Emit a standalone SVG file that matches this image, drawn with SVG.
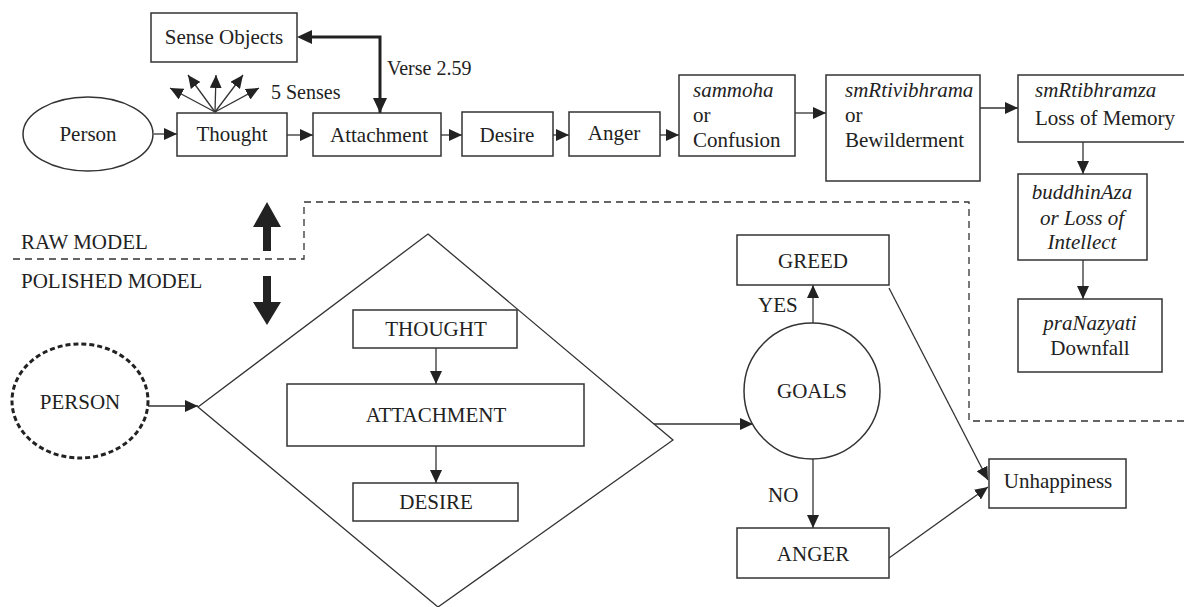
<svg xmlns="http://www.w3.org/2000/svg" width="1184" height="607" viewBox="0 0 1184 607">
<style>
.box{fill:#fff;stroke:#333;stroke-width:1.5}
.ln{fill:none;stroke:#333;stroke-width:1.3}
.dash{fill:none;stroke:#333;stroke-width:1.3;stroke-dasharray:7 5}
text{font-family:"Liberation Serif","Times New Roman",serif;font-size:21px;fill:#222}
.c{text-anchor:middle}
.i{font-style:italic}
</style>
<defs>
<marker id="ah" markerUnits="userSpaceOnUse" markerWidth="13" markerHeight="12" refX="13" refY="6" orient="auto">
<path d="M0,0 L13,6 L0,12 z" fill="#222"/>
</marker>
<marker id="ahb" markerUnits="userSpaceOnUse" markerWidth="15" markerHeight="14" refX="15" refY="7" orient="auto">
<path d="M0,0 L15,7 L0,14 z" fill="#222"/>
</marker>
</defs>

<!-- dashed separator -->
<path class="dash" d="M13,259 H304 V202 H969 V421 H1184"/>

<!-- raw/polished labels and big arrows -->
<text x="21" y="249">RAW MODEL</text>
<text x="21" y="288">POLISHED MODEL</text>
<polygon points="267,202 281,227 271,227 271,251 263,251 263,227 253,227" fill="#222"/>
<polygon points="267,325 281,302 271,302 271,276 263,276 263,302 253,302" fill="#222"/>

<g id="connectors">
<line class="ln" x1="154" y1="134" x2="177" y2="134" marker-end="url(#ah)"/>
<line class="ln" x1="287" y1="135" x2="313" y2="135" marker-end="url(#ah)"/>
<line class="ln" x1="441" y1="135" x2="462" y2="135" marker-end="url(#ah)"/>
<line class="ln" x1="553" y1="135" x2="569" y2="135" marker-end="url(#ah)"/>
<line class="ln" x1="660" y1="135" x2="679" y2="135" marker-end="url(#ah)"/>
<line class="ln" x1="795" y1="113" x2="826" y2="113" marker-end="url(#ah)"/>
<line class="ln" x1="980" y1="108" x2="1018" y2="108" marker-end="url(#ah)"/>
<line class="ln" x1="1083" y1="142" x2="1083" y2="174" marker-end="url(#ah)"/>
<line class="ln" x1="1083" y1="260" x2="1083" y2="299" marker-end="url(#ah)"/>
<!-- 5 senses -->
<line class="ln" x1="215" y1="112" x2="170" y2="88" marker-end="url(#ah)"/>
<line class="ln" x1="215" y1="112" x2="188" y2="75" marker-end="url(#ah)"/>
<line class="ln" x1="215" y1="112" x2="216" y2="75" marker-end="url(#ah)"/>
<line class="ln" x1="215" y1="112" x2="243" y2="75" marker-end="url(#ah)"/>
<line class="ln" x1="215" y1="112" x2="259" y2="88" marker-end="url(#ah)"/>
<!-- verse 2.59 thick double arrow -->
<path d="M310,37 H380 V113" fill="none" stroke="#222" stroke-width="3" marker-end="url(#ahb)"/>
<polygon points="297,37 312,30 312,44" fill="#222"/>
<!-- lower -->
<line class="ln" x1="148" y1="406" x2="198" y2="406" marker-end="url(#ah)"/>
<line class="ln" x1="436" y1="348" x2="436" y2="384" marker-end="url(#ah)"/>
<line class="ln" x1="436" y1="446" x2="436" y2="483" marker-end="url(#ah)"/>
<line class="ln" x1="654" y1="424" x2="753" y2="424" marker-end="url(#ah)"/>
<line class="ln" x1="813" y1="323" x2="813" y2="285" marker-end="url(#ah)"/>
<line class="ln" x1="813" y1="459" x2="813" y2="528" marker-end="url(#ah)"/>
<line class="ln" x1="889" y1="288" x2="988" y2="480" marker-end="url(#ah)"/>
<line class="ln" x1="889" y1="558" x2="988" y2="487" marker-end="url(#ah)"/>
</g>

<text x="387" y="75" style="font-size:20px">Verse 2.59</text>
<text x="271" y="99" style="font-size:20px">5 Senses</text>

<g id="sense-objects"><rect class="box" x="151" y="13" width="146" height="49"/><text class="c" x="224" y="44">Sense Objects</text></g>
<g id="person"><ellipse class="box" cx="88" cy="134" rx="65" ry="37"/><text class="c" x="88" y="141">Person</text></g>
<g id="thought"><rect class="box" x="177" y="113" width="110" height="43"/><text class="c" x="232" y="141">Thought</text></g>
<g id="attachment"><rect class="box" x="313" y="113" width="128" height="43"/><text class="c" x="379" y="142">Attachment</text></g>
<g id="desire"><rect class="box" x="462" y="112" width="91" height="44"/><text class="c" x="507" y="142">Desire</text></g>
<g id="anger"><rect class="box" x="569" y="112" width="91" height="44"/><text class="c" x="614" y="140">Anger</text></g>
<g id="sammoha"><rect class="box" x="679" y="75" width="116" height="81"/>
<text x="693" y="97" class="i">sammoha</text><text x="693" y="122">or</text><text x="693" y="147">Confusion</text></g>
<g id="smrtivibhrama"><rect class="box" x="826" y="75" width="154" height="106"/>
<text x="845" y="97" class="i">smRtivibhrama</text><text x="845" y="122">or</text><text x="845" y="147">Bewilderment</text></g>
<g id="smrtibhramza"><rect class="box" x="1018" y="75" width="170" height="67"/>
<text x="1035" y="97" class="i">smRtibhramza</text><text x="1035" y="125">Loss of Memory</text></g>
<g id="buddhinaza"><rect class="box" x="1018" y="174" width="129" height="86"/>
<text class="c i" x="1082" y="199">buddhinAza</text><text class="c i" x="1082" y="225">or Loss of</text><text class="c i" x="1082" y="249">Intellect</text></g>
<g id="pranazyati"><rect class="box" x="1018" y="299" width="144" height="73"/>
<text class="c i" x="1090" y="330">praNazyati</text><text class="c" x="1090" y="355">Downfall</text></g>

<g id="person2"><ellipse cx="80" cy="401" rx="68" ry="57" fill="#fff" stroke="#222" stroke-width="3" stroke-dasharray="5 3"/><text class="c" x="80" y="409">PERSON</text></g>
<g id="diamond"><polygon class="ln" points="428,234 673,440 438,607 198,407"/></g>
<g id="thought2"><rect class="box" x="353" y="310" width="164" height="38"/><text class="c" x="436" y="336">THOUGHT</text></g>
<g id="attachment2"><rect class="box" x="287" y="384" width="297" height="62"/><text class="c" x="436" y="422">ATTACHMENT</text></g>
<g id="desire2"><rect class="box" x="353" y="483" width="165" height="38"/><text class="c" x="436" y="509">DESIRE</text></g>
<g id="goals"><circle class="box" cx="812" cy="391" r="68"/><text class="c" x="812" y="398">GOALS</text></g>
<g id="greed"><rect class="box" x="737" y="235" width="152" height="50"/><text class="c" x="813" y="268">GREED</text></g>
<g id="anger2"><rect class="box" x="737" y="528" width="152" height="50"/><text class="c" x="813" y="561">ANGER</text></g>
<g id="unhappiness"><rect class="box" x="989" y="459" width="137" height="49"/><text class="c" x="1058" y="488">Unhappiness</text></g>
<text x="758" y="312">YES</text>
<text x="768" y="502">NO</text>
</svg>
